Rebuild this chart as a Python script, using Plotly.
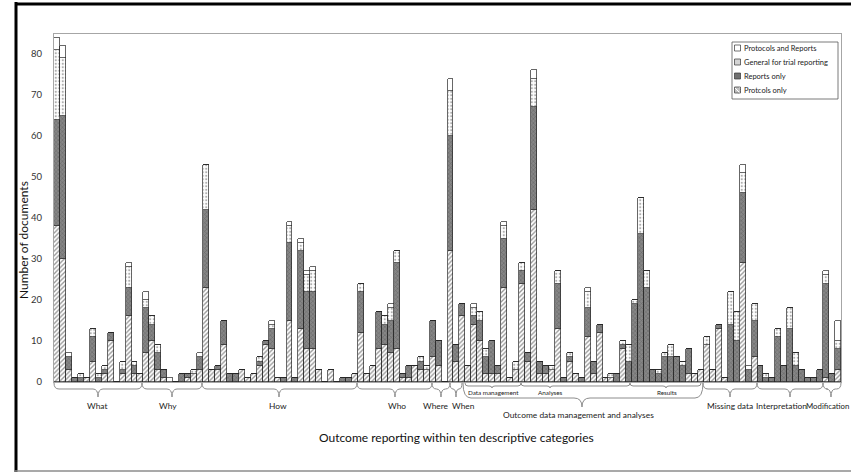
import plotly.graph_objects as go

# ---------------- data ----------------
bar_index = list(range(132))

protocols_only = [38, 30, 3, 0, 0, 1, 5, 0, 2, 10, 0, 2, 16, 2, 2,
                  7, 10, 3, 1, 0, 0, 0, 1, 2, 3,
                  23, 3, 3, 9, 0, 0, 3, 1, 2, 4, 9, 8, 1, 0, 15, 0, 13, 8, 8, 3, 0, 3, 0, 0, 0, 2,
                  12, 2, 4, 8, 9, 7, 8, 1, 1, 4, 3, 3,
                  6, 4, 0,
                  32, 5,
                  16, 4, 14, 10, 2, 2, 2, 23, 1, 3, 24, 5, 42, 2, 2, 3, 13, 0, 5, 2, 0, 11, 2, 12, 1, 1, 0, 8,
                  0, 0, 0, 0, 0, 0, 0, 0, 0, 0, 2, 2, 3,
                  9, 3, 13, 1, 0, 0, 29, 0, 6,
                  0, 0, 0, 0, 0, 0, 0, 0, 0, 0, 0,
                  1, 0, 3]
reports_only = [26, 35, 3, 1, 1, 0, 6, 1, 1, 2, 0, 1, 7, 2, 0,
                11, 4, 4, 2, 0, 0, 2, 1, 0, 3,
                19, 0, 1, 6, 2, 2, 0, 0, 0, 1, 1, 5, 0, 1, 19, 1, 19, 14, 14, 0, 0, 0, 0, 1, 1, 0,
                10, 0, 0, 9, 5, 8, 21, 1, 3, 0, 2, 0,
                9, 6, 0,
                28, 4,
                3, 0, 2, 5, 4, 8, 2, 12, 0, 0, 3, 2, 25, 3, 2, 0, 11, 1, 1, 0, 1, 7, 3, 2, 0, 0, 2, 1,
                5, 19, 36, 23, 3, 2, 6, 6, 6, 4, 6, 0, 0,
                0, 0, 1, 0, 14, 10, 17, 3, 9,
                4, 1, 1, 11, 4, 13, 4, 3, 1, 1, 3,
                23, 2, 5]
general_trial = [17, 14, 0, 0, 1, 0, 2, 1, 1, 0, 0, 2, 5, 1, 0,
                 2, 2, 2, 0, 0, 0, 0, 0, 1, 0,
                 11, 0, 0, 0, 0, 0, 0, 0, 0, 1, 0, 1, 0, 0, 4, 0, 2, 4, 5, 0, 0, 0, 0, 0, 0, 0,
                 2, 0, 0, 0, 2, 3, 3, 0, 0, 0, 1, 1,
                 0, 0, 0,
                 11, 0,
                 0, 0, 2, 2, 2, 0, 0, 3, 0, 2, 2, 0, 7, 0, 0, 1, 3, 0, 1, 0, 0, 4, 0, 0, 0, 1, 0, 1,
                 4, 1, 9, 4, 0, 1, 1, 3, 0, 1, 0, 0, 0,
                 2, 0, 0, 0, 8, 7, 5, 0, 4,
                 0, 1, 0, 2, 0, 5, 3, 0, 0, 0, 0,
                 2, 0, 2]
protocols_and_reports = [3, 3, 1, 0, 0, 0, 0, 0, 0, 0, 0, 0, 1, 0, 0,
                         2, 0, 0, 0, 1, 0, 0, 0, 0, 1,
                         0, 0, 0, 0, 0, 0, 0, 0, 0, 0, 0, 1, 0, 0, 1, 0, 1, 1, 1, 0, 0, 0, 0, 0, 0, 0,
                         0, 0, 0, 0, 0, 1, 0, 0, 0, 0, 0, 0,
                         0, 0, 0,
                         3, 0,
                         0, 0, 1, 0, 0, 0, 0, 1, 0, 0, 0, 0, 2, 0, 0, 0, 0, 0, 0, 0, 0, 1, 0, 0, 0, 0, 0, 0,
                         0, 0, 0, 0, 0, 0, 0, 0, 0, 0, 0, 0, 0,
                         0, 0, 0, 0, 0, 0, 2, 1, 0,
                         0, 0, 0, 0, 0, 0, 0, 0, 0, 0, 0,
                         1, 0, 5]

series_names = ["Protcols only", "Reports only", "General for trial reporting", "Protocols and Reports"]
y_ticks = [0, 10, 20, 30, 40, 50, 60, 70, 80]

group_labels = ["What", "Why", "How", "Who", "Where", "When",
                "Outcome data management and analyses", "Missing data", "Interpretation", "Modification"]
sub_labels = ["Data management", "Analyses", "Results"]
x_title = "Outcome reporting within ten descriptive categories"
y_title = "Number of documents"

# ---------------- geometry helpers (pixels -> paper) ----------------
FIG_W, FIG_H = 851, 474
PL, PR, PT, PB = 54, 841, 34, 382


def fx(px):
    return (px - PL) / (PR - PL)


def fy(py):
    return (PB - py) / (PB - PT)


def pt(px, py):
    return f"{fx(px):.5f},{fy(py):.5f}"


line_col = "#262626"
styles = [
    dict(color="white", line=dict(color=line_col, width=0.7),
         pattern=dict(shape="/", fgcolor="#2e2e2e", bgcolor="white", size=3.2, solidity=0.42)),
    dict(color="#7d7d7d", line=dict(color=line_col, width=0.7),
         pattern=dict(shape="x", fgcolor="#4a4a4a", bgcolor="#868686", size=3, solidity=0.35)),
    dict(color="white", line=dict(color=line_col, width=0.7),
         pattern=dict(shape=".", fgcolor="#5e5e5e", bgcolor="white", size=3.5, solidity=0.32)),
    dict(color="white", line=dict(color=line_col, width=0.7)),
]

fig = go.Figure()
for name, vals, st in zip(series_names,
                          [protocols_only, reports_only, general_trial, protocols_and_reports],
                          styles):
    fig.add_trace(go.Bar(x=bar_index, y=vals, name=name, marker=st, showlegend=False,
                         hovertemplate=name + ": %{y}<extra></extra>"))

shapes = []
annotations = []

# outer frame of the picture
shapes.append(dict(type="line", xref="paper", yref="paper", x0=fx(16), x1=fx(16), y0=fy(2), y1=fy(472),
                   line=dict(color="black", width=3)))
shapes.append(dict(type="line", xref="paper", yref="paper", x0=fx(15), x1=fx(851), y0=fy(4), y1=fy(4),
                   line=dict(color="black", width=3)))
shapes.append(dict(type="line", xref="paper", yref="paper", x0=fx(15), x1=fx(851), y0=fy(471), y1=fy(471),
                   line=dict(color="#8c8c8c", width=1.5)))


def brace(x0, x1, xt, ytop=383, ymid=389, ytip=397, r=5):
    p = (f"M {pt(x0, ytop)} Q {pt(x0, ymid)} {pt(x0 + r, ymid)} "
         f"L {pt(xt - r, ymid)} Q {pt(xt, ymid)} {pt(xt, ytip)} "
         f"Q {pt(xt, ymid)} {pt(xt + r, ymid)} "
         f"L {pt(x1 - r, ymid)} Q {pt(x1, ymid)} {pt(x1, ytop)}")
    return dict(type="path", xref="paper", yref="paper", path=p,
                line=dict(color="#8c8c8c", width=1))


# braces: (x0, x1, tip, label_x)
brace_geo = [(54, 142, 98, 97), (142, 202, 172, 168), (202, 357, 279, 278), (357, 432, 395, 397),
             (432, 450, 441, 436), (450, 462, 456, 463), None, (703, 757, 730, 730),
             (757, 823, 790, 781), (823, 841, 831, None)]
lab_font = dict(size=8.4, color="#222")
for lab, g in zip(group_labels, brace_geo):
    if g is None:
        continue
    x0, x1, xt, lx = g
    r = min(5, (x1 - x0) / 4)
    shapes.append(brace(x0, x1, xt, r=r))
    if lx is None:
        annotations.append(dict(text=lab, xref="paper", yref="paper", x=fx(851), y=fy(406),
                                showarrow=False, xanchor="right", yanchor="middle",
                                font=dict(size=7.8, color="#222")))
    else:
        annotations.append(dict(text=lab, xref="paper", yref="paper", x=fx(lx), y=fy(406),
                                showarrow=False, xanchor="center", yanchor="middle", font=lab_font))

# outcome big brace + sub braces
shapes.append(brace(463, 703, 582, ytop=383, ymid=398, ytip=407, r=8))
annotations.append(dict(text=group_labels[6], xref="paper", yref="paper", x=fx(578), y=fy(415),
                        showarrow=False, xanchor="center", yanchor="middle", font=lab_font))
sub_geo = [(465, 521, 492, 493), (521, 630, 550, 550), (630, 701, 666, 667)]
for lab, (x0, x1, xt, lx) in zip(sub_labels, sub_geo):
    shapes.append(brace(x0, x1, xt, ytop=383, ymid=386, ytip=388, r=3))
    annotations.append(dict(text=lab, xref="paper", yref="paper", x=fx(lx), y=fy(392),
                            showarrow=False, xanchor="center", yanchor="middle",
                            font=dict(size=6.3, color="#222")))

# axis titles
annotations.append(dict(text=x_title, xref="paper", yref="paper", x=fx(456), y=fy(437),
                        showarrow=False, xanchor="center", yanchor="middle",
                        font=dict(size=12, color="#111")))
annotations.append(dict(text=y_title, xref="paper", yref="paper", x=fx(23), y=fy(240),
                        showarrow=False, xanchor="center", yanchor="middle", textangle=-90,
                        font=dict(size=12, color="#111")))

# manual legend
shapes.append(dict(type="rect", xref="paper", yref="paper", x0=fx(732), x1=fx(838), y0=fy(42), y1=fy(99),
                   line=dict(color="#595959", width=0.8), fillcolor="white", layer="above"))
legend_rows = [(series_names[3], 48), (series_names[2], 62), (series_names[1], 76), (series_names[0], 90)]
sw_fill = {series_names[3]: "white", series_names[2]: "#d4d4d4",
           series_names[1]: "#6f6f6f", series_names[0]: "white"}
for nm, yy in legend_rows:
    shapes.append(dict(type="rect", xref="paper", yref="paper", x0=fx(734.5), x1=fx(740.5),
                       y0=fy(yy - 3), y1=fy(yy + 3), fillcolor=sw_fill[nm],
                       line=dict(color="#333", width=0.7), layer="above"))
    if nm == series_names[0]:
        p = (f"M {pt(734.5, yy + 1)} L {pt(736.5, yy + 3)} M {pt(734.5, yy - 1)} L {pt(738.5, yy + 3)} "
             f"M {pt(735.5, yy - 3)} L {pt(740.5, yy + 2)} M {pt(737.5, yy - 3)} L {pt(740.5, yy)}")
        shapes.append(dict(type="path", xref="paper", yref="paper", path=p,
                           line=dict(color="#333", width=0.6), layer="above"))
    annotations.append(dict(text=nm, xref="paper", yref="paper", x=fx(742), y=fy(yy),
                            showarrow=False, xanchor="left", yanchor="middle",
                            font=dict(size=7.5, color="#222")))

fig.update_layout(
    width=FIG_W, height=FIG_H,
    margin=dict(l=PL, r=FIG_W - PR, t=PT, b=FIG_H - PB, pad=0),
    barmode="stack", bargap=0,
    plot_bgcolor="white", paper_bgcolor="white",
    font=dict(family="Lato, Open Sans, sans-serif", color="#222"),
    showlegend=False,
    shapes=shapes, annotations=annotations,
    xaxis=dict(range=[-0.5, 131.5], showticklabels=False, ticks="", showgrid=False, zeroline=False,
               showline=True, mirror=True, linecolor="#a6a6a6", linewidth=1),
    yaxis=dict(range=[0, 84.9], tickvals=y_ticks, ticks="", showgrid=False, zeroline=False,
               showline=True, mirror=True, linecolor="#a6a6a6", linewidth=1,
               tickfont=dict(size=9.5, color="#333"), ticklabelstandoff=9),
)

fig.write_html("out.html", config={"displayModeBar": False},
               post_script="document.body.style.margin='0';document.body.style.overflow='hidden';")
